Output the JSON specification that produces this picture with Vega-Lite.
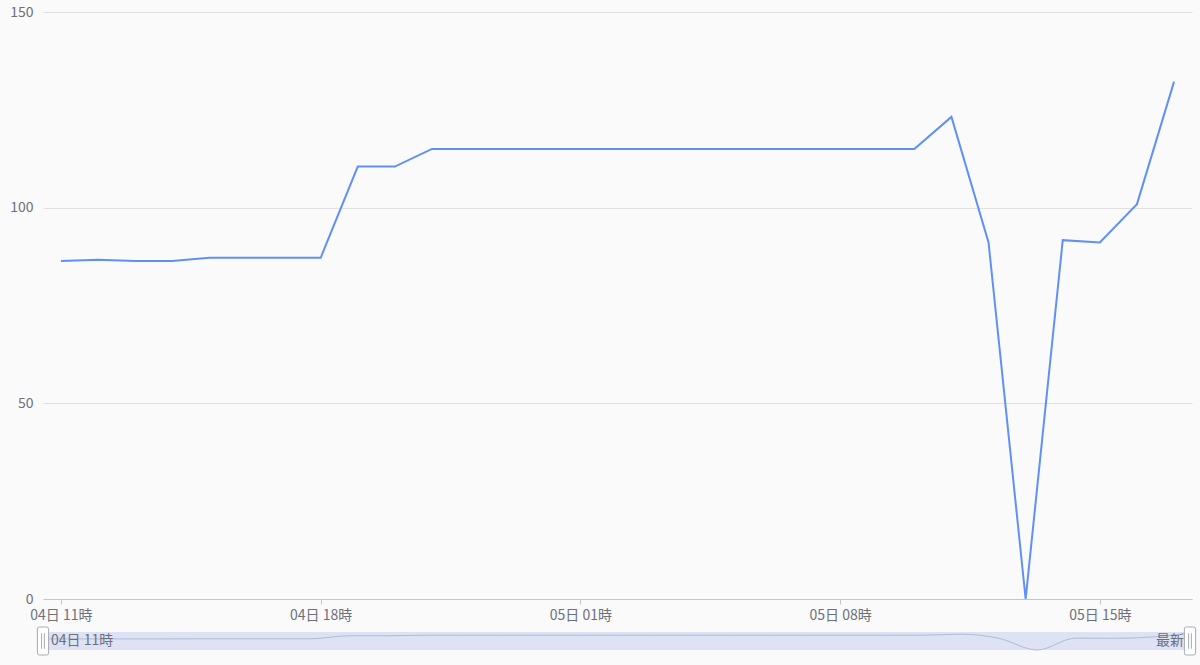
{
  "$schema": "https://vega.github.io/schema/vega-lite/v6.json",
  "background": "#fafafa",
  "padding": {"left": 3, "top": 5, "right": 6, "bottom": 10},
  "spacing": 3,
  "config": {
    "view": {"stroke": null},
    "font": "Noto Sans CJK JP",
    "axis": {"labelFont": "Noto Sans CJK JP", "labelFontSize": 14, "labelColor": "#6e7079", "title": null}
  },
  "data": {
    "values": [
      {"time": "2024-01-04T11:00:00", "value": 86.4},
      {"time": "2024-01-04T12:00:00", "value": 86.7},
      {"time": "2024-01-04T13:00:00", "value": 86.4},
      {"time": "2024-01-04T14:00:00", "value": 86.4},
      {"time": "2024-01-04T15:00:00", "value": 87.2},
      {"time": "2024-01-04T16:00:00", "value": 87.2},
      {"time": "2024-01-04T17:00:00", "value": 87.2},
      {"time": "2024-01-04T18:00:00", "value": 87.2},
      {"time": "2024-01-04T19:00:00", "value": 110.5},
      {"time": "2024-01-04T20:00:00", "value": 110.5},
      {"time": "2024-01-04T21:00:00", "value": 115},
      {"time": "2024-01-04T22:00:00", "value": 115},
      {"time": "2024-01-04T23:00:00", "value": 115},
      {"time": "2024-01-05T00:00:00", "value": 115},
      {"time": "2024-01-05T01:00:00", "value": 115},
      {"time": "2024-01-05T02:00:00", "value": 115},
      {"time": "2024-01-05T03:00:00", "value": 115},
      {"time": "2024-01-05T04:00:00", "value": 115},
      {"time": "2024-01-05T05:00:00", "value": 115},
      {"time": "2024-01-05T06:00:00", "value": 115},
      {"time": "2024-01-05T07:00:00", "value": 115},
      {"time": "2024-01-05T08:00:00", "value": 115},
      {"time": "2024-01-05T09:00:00", "value": 115},
      {"time": "2024-01-05T10:00:00", "value": 115},
      {"time": "2024-01-05T11:00:00", "value": 123.2},
      {"time": "2024-01-05T12:00:00", "value": 91.1},
      {"time": "2024-01-05T13:00:00", "value": 0},
      {"time": "2024-01-05T14:00:00", "value": 91.7},
      {"time": "2024-01-05T15:00:00", "value": 91.1},
      {"time": "2024-01-05T16:00:00", "value": 100.9},
      {"time": "2024-01-05T17:00:00", "value": 132.2}
    ]
  },
  "vconcat": [
    {
      "width": 1149,
      "height": 587,
      "mark": {"type": "line", "color": "#6090f5", "strokeWidth": 2},
      "encoding": {
        "x": {
          "field": "time",
          "type": "temporal",
          "scale": {
            "nice": false,
            "domain": [
              {"year": 2024, "month": 1, "date": 4, "hours": 10, "minutes": 31},
              {"year": 2024, "month": 1, "date": 5, "hours": 17, "minutes": 29}
            ]
          },
          "axis": {
            "values": [
              {"year": 2024, "month": 1, "date": 4, "hours": 11},
              {"year": 2024, "month": 1, "date": 4, "hours": 18},
              {"year": 2024, "month": 1, "date": 5, "hours": 1},
              {"year": 2024, "month": 1, "date": 5, "hours": 8},
              {"year": 2024, "month": 1, "date": 5, "hours": 15}
            ],
            "format": "%d日 %H時",
            "grid": false,
            "domainColor": "#c6c6c6",
            "tickColor": "#c6c6c6",
            "tickSize": 5,
            "labelPadding": 4
          }
        },
        "y": {
          "field": "value",
          "type": "quantitative",
          "scale": {"domain": [0, 150], "nice": false},
          "axis": {
            "values": [0, 50, 100, 150],
            "domain": false,
            "ticks": false,
            "labelPadding": 10,
            "gridColor": "#e0e0e0",
            "minExtent": 40,
            "maxExtent": 40
          }
        }
      }
    },
    {
      "width": 1147,
      "height": 18,
      "layer": [
        {
          "data": {"values": [{"from": "2024-01-04T11:00:00", "to": "2024-01-05T17:00:00"}]},
          "mark": {"type": "rect", "fill": "#dde2f5"},
          "encoding": {
            "x": {"field": "from", "type": "temporal"},
            "x2": {"field": "to"},
            "y": {"datum": 0},
            "y2": {"datum": 140}
          }
        },
        {
          "mark": {"type": "line", "color": "#b3bbd3", "strokeWidth": 1, "interpolate": "monotone"},
          "encoding": {
            "x": {"field": "time", "type": "temporal"},
            "y": {"field": "value", "type": "quantitative"}
          }
        },
        {
          "data": {"values": [{"at": "2024-01-04T11:00:00", "label": "04日 11時"}]},
          "mark": {"type": "text", "align": "left", "baseline": "middle", "dx": 8, "fontSize": 14, "color": "#6e7079", "font": "Noto Sans CJK JP"},
          "encoding": {
            "x": {"field": "at", "type": "temporal"},
            "y": {"datum": 70},
            "text": {"field": "label"}
          }
        },
        {
          "data": {"values": [{"at": "2024-01-05T17:00:00", "label": "最新"}]},
          "mark": {"type": "text", "align": "right", "baseline": "middle", "dx": -6, "fontSize": 14, "color": "#6e7079", "font": "Noto Sans CJK JP"},
          "encoding": {
            "x": {"field": "at", "type": "temporal"},
            "y": {"datum": 70},
            "text": {"field": "label"}
          }
        },
        {
          "data": {"values": [{"at": "2024-01-04T11:00:00"}, {"at": "2024-01-05T17:00:00"}]},
          "mark": {
            "type": "point",
            "shape": "M-0.4,-0.85Q-0.4,-1,-0.25,-1H0.25Q0.4,-1,0.4,-0.85V0.85Q0.4,1,0.25,1H-0.25Q-0.4,1,-0.4,0.85Z M-0.1,-0.55V0.55 M0.1,-0.55V0.55",
            "size": 784,
            "filled": false,
            "fill": "#ffffff",
            "fillOpacity": 1,
            "stroke": "#a8abb2",
            "strokeWidth": 1,
            "opacity": 1
          },
          "encoding": {
            "x": {"field": "at", "type": "temporal"},
            "y": {"datum": 70}
          }
        }
      ],
      "encoding": {
        "x": {
          "scale": {
            "nice": false,
            "domain": [
              {"year": 2024, "month": 1, "date": 4, "hours": 11},
              {"year": 2024, "month": 1, "date": 5, "hours": 17}
            ]
          },
          "axis": null
        },
        "y": {
          "scale": {"domain": [0, 140], "nice": false},
          "axis": {"labels": false, "ticks": false, "domain": false, "grid": false, "minExtent": 40, "maxExtent": 40}
        }
      }
    }
  ]
}
